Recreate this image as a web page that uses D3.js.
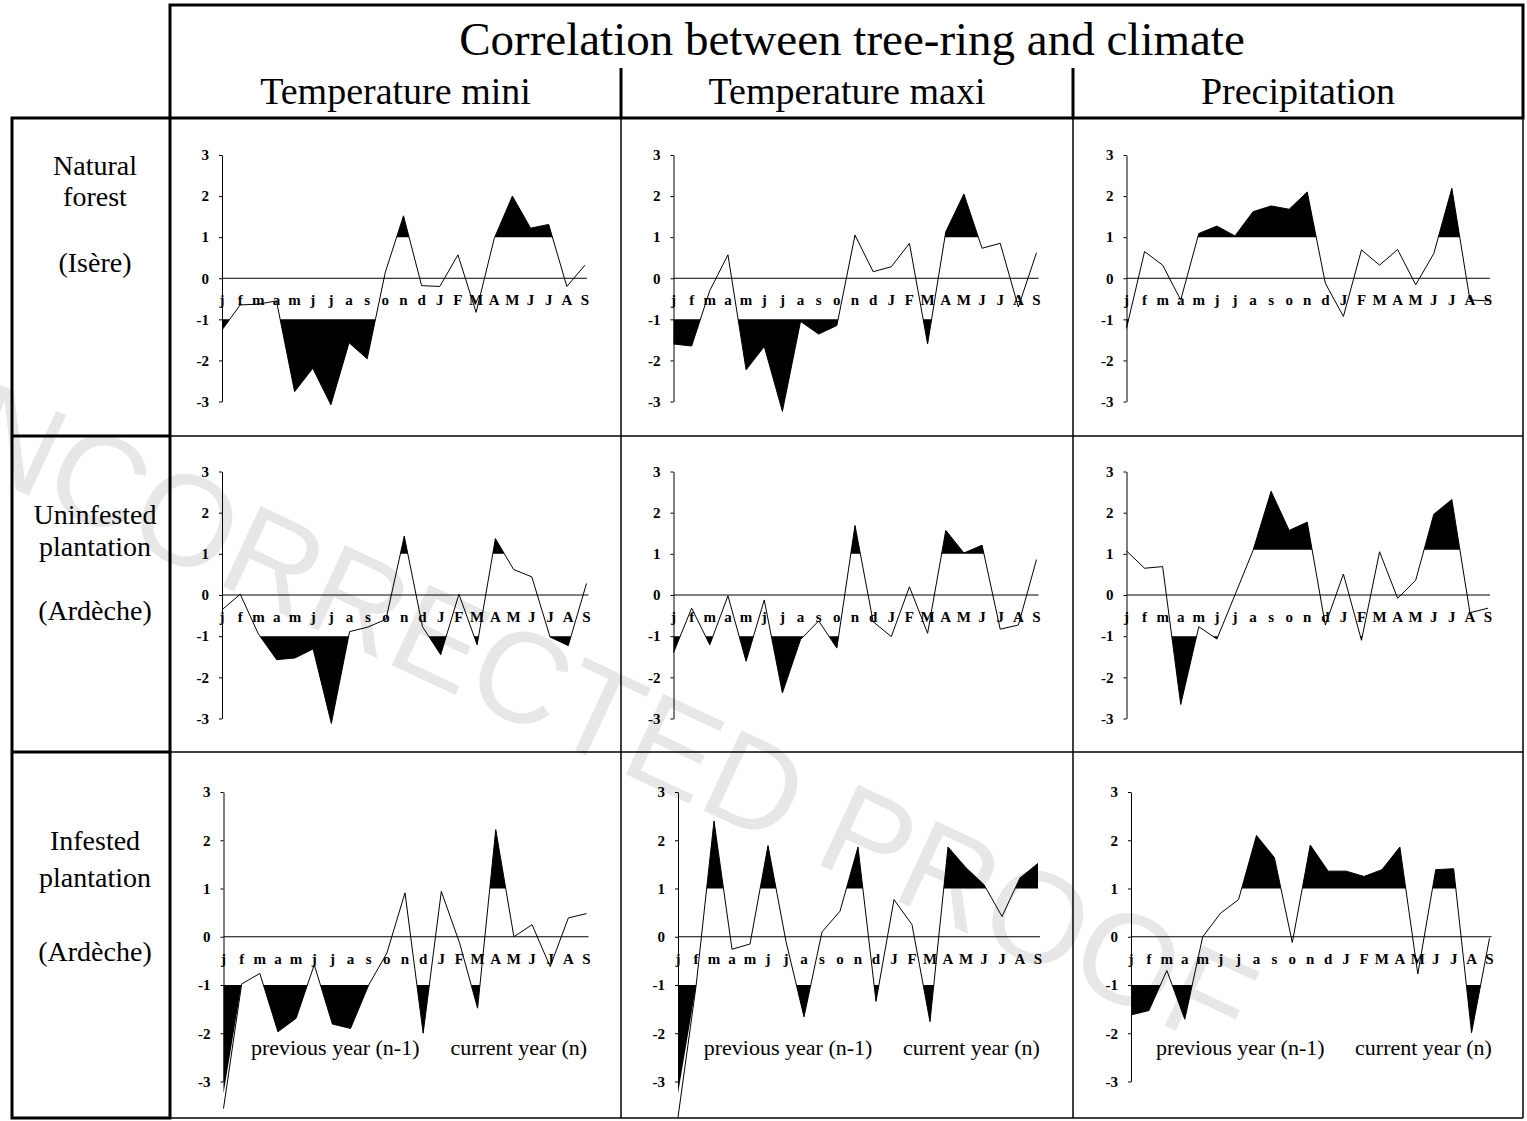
<!DOCTYPE html>
<html>
<head>
<meta charset="utf-8">
<script src="https://cdn.jsdelivr.net/npm/d3@7"></script>
<style>
  body { margin: 0; background: #fff; }
  svg { display: block; }
  text { font-family: 'Liberation Serif', 'Times New Roman', serif; fill: #000; }
</style>
</head>
<body>
<script>
const width = 1527;
const height = 1121;

// DATA
const months = ['j', 'f', 'm', 'a', 'm', 'j', 'j', 'a', 's', 'o', 'n', 'd',
  'J', 'F', 'M', 'A', 'M', 'J', 'J', 'A', 'S'];
const climateVars = ['Temperature mini', 'Temperature maxi', 'Precipitation'];
const sites = [
  ['Natural', 'forest', '(Isère)'],
  ['Uninfested', 'plantation', '(Ardèche)'],
  ['Infested', 'plantation', '(Ardèche)'],
];
const yTicks = [3, 2, 1, 0, -1, -2, -3];

// correlation values, one per month (j..S)
const naturalTmin = [-1.26, -0.65, -0.63, -0.55, -2.76, -2.19, -3.08, -1.57, -1.96, 0.15, 1.52,
  -0.18, -0.2, 0.57, -0.83, 0.97, 2.0, 1.22, 1.31, -0.2, 0.32];
const naturalTmax = [-1.6, -1.65, -0.3, 0.57, -2.23, -1.66, -3.24, -1.05, -1.36, -1.15, 1.05,
  0.16, 0.28, 0.85, -1.6, 1.13, 2.05, 0.73, 0.85, -0.7, 0.62];
const naturalPrec = [-1.22, 0.65, 0.32, -0.53, 1.09, 1.27, 1.03, 1.62, 1.76, 1.68, 2.1,
  -0.12, -0.93, 0.69, 0.32, 0.7, -0.16, 0.6, 2.19, -0.53, -0.55];
const uninfTmin = [-0.36, 0.02, -0.95, -1.57, -1.53, -1.31, -3.12, -0.89, -0.78, -0.59, 1.43,
  -0.77, -1.45, 0.02, -1.21, 1.37, 0.62, 0.44, -1.02, -1.23, 0.28];
const uninfTmax = [-1.4, -0.32, -1.21, -0.02, -1.61, -0.12, -2.38, -1.08, -0.63, -1.29, 1.69,
  -0.65, -1.01, 0.2, -0.93, 1.57, 1.02, 1.21, -0.83, -0.73, 0.86];
const uninfPrec = [1.07, 0.65, 0.69, -2.66, -0.77, -1.07, 0.0, 1.08, 2.52, 1.57, 1.77,
  -0.73, 0.51, -1.1, 1.05, -0.08, 0.36, 1.96, 2.32, -0.43, -0.32];
const infTmin = [-3.56, -0.98, -0.76, -1.97, -1.69, -0.58, -1.81, -1.9, -1.0, -0.34, 0.91,
  -2.0, 0.94, -0.12, -1.48, 2.22, 0.0, 0.25, -0.62, 0.39, 0.48];
const infTmax = [-3.74, -1.03, 2.4, -0.26, -0.15, 1.89, -0.1, -1.66, 0.1, 0.53, 1.86,
  -1.34, 0.77, 0.25, -1.76, 1.86, 1.43, 1.08, 0.42, 1.22, 1.52];
const infPrec = [-1.62, -1.53, -0.7, -1.71, 0.0, 0.49, 0.77, 2.1, 1.64, -0.12, 1.9,
  1.36, 1.36, 1.25, 1.39, 1.86, -0.77, 1.39, 1.41, -1.99, -0.03];

const series = [
  [naturalTmin, naturalTmax, naturalPrec],
  [uninfTmin, uninfTmax, uninfPrec],
  [infTmin, infTmax, infPrec],
];
// significance thresholds used for the black fills
const upperThr = [[1, 1, 1], [1, 1, 1.1], [1, 1, 1]];
const lowerThr = -1;
const fillFloor = -3.25;

// LAYOUT
const colLeft = [170, 621, 1073, 1523];
const yTopPx = [155, 471.5, 792];
const yBotPx = [401.5, 718.5, 1081.5];
const xStartPx = [[222, 673.5, 1126.5], [222, 673.5, 1126.5], [223.5, 678, 1131]];
const xEndPx = [[585, 1036.5, 1488], [586.5, 1036.5, 1488], [586.5, 1038, 1489.5]];

// add the points where the line crosses a threshold so fills start exactly there
const withCrossings = (values, t) => {
  const pts = [];
  values.forEach((v, i) => {
    pts.push({ i, v });
    const next = values[i + 1];
    if (next !== undefined && (v - t) * (next - t) < 0) {
      pts.push({ i: i + (t - v) / (next - v), v: t });
    }
  });
  return pts;
};

const svg = d3.select('body').append('svg')
  .attr('width', width)
  .attr('height', height);

svg.append('rect').attr('width', width).attr('height', height).attr('fill', '#fff');

// WATERMARK
svg.append('text')
  .attr('transform', 'translate(548,738) rotate(25)')
  .attr('text-anchor', 'middle')
  .style('font-family', "'Liberation Sans', Arial, sans-serif")
  .style('font-size', '129px')
  .style('fill', '#e7e7e7')
  .text('UNCORRECTED PROOF');

// PANELS
series.forEach((rowSeries, r) => {
  rowSeries.forEach((values, c) => {
    const x = d3.scaleLinear()
      .domain([0, months.length - 1])
      .range([xStartPx[r][c], xEndPx[r][c]]);
    const y = d3.scaleLinear()
      .domain([-3, 3])
      .range([yBotPx[r], yTopPx[r]]);

    const g = svg.append('g').attr('class', `panel-${r}-${c}`);
    const thrUp = upperThr[r][c];
    const idx = d3.range(values.length);

    // black fills beyond the thresholds
    g.append('path')
      .datum(withCrossings(values, thrUp))
      .attr('fill', '#000')
      .attr('d', d3.area()
        .defined(p => p.v >= thrUp - 1e-9)
        .x(p => x(p.i)).y0(y(thrUp)).y1(p => y(p.v)));
    g.append('path')
      .datum(withCrossings(values, lowerThr))
      .attr('fill', '#000')
      .attr('d', d3.area()
        .defined(p => p.v <= lowerThr + 1e-9)
        .x(p => x(p.i)).y0(y(lowerThr)).y1(p => y(Math.max(p.v, fillFloor))));

    // zero line
    g.append('line')
      .attr('x1', x(0)).attr('x2', x(20) + 2)
      .attr('y1', y(0)).attr('y2', y(0))
      .attr('stroke', '#000').attr('stroke-width', 1);

    // y axis
    const axis = g.append('g')
      .attr('transform', `translate(${x(0)},0)`)
      .call(d3.axisLeft(y).tickValues(yTicks).tickSize(3).tickSizeOuter(0)
        .tickPadding(10).tickFormat(d => String(d)));
    axis.selectAll('path, line').attr('stroke', '#000').attr('stroke-width', 1);
    axis.selectAll('text')
      .attr('font-family', "'Liberation Serif', serif")
      .attr('font-weight', 'bold')
      .attr('font-size', 15)
      .attr('fill', '#000');

    // correlation line
    g.append('path')
      .datum(idx)
      .attr('fill', 'none')
      .attr('stroke', '#000')
      .attr('stroke-width', 1)
      .attr('d', d3.line().x(i => x(i)).y(i => y(values[i])));

    // month labels
    g.selectAll('text.month')
      .data(months)
      .join('text')
      .attr('class', 'month')
      .attr('x', (d, i) => x(i))
      .attr('y', y(0) + 27)
      .attr('text-anchor', 'middle')
      .style('font-weight', 'bold')
      .style('font-size', '15px')
      .text(d => d);

    if (r === 2) {
      g.append('text')
        .attr('x', x(10.8)).attr('y', 1055)
        .attr('text-anchor', 'end')
        .style('font-size', '22px')
        .text('previous year (n-1)');
      g.append('text')
        .attr('x', x(12.5)).attr('y', 1055)
        .style('font-size', '22px')
        .text('current year (n)');
    }
  });
});

// HEADER
svg.append('text')
  .attr('x', 852).attr('y', 55)
  .attr('text-anchor', 'middle')
  .style('font-size', '47px')
  .text('Correlation between tree-ring and climate');

climateVars.forEach((name, c) => {
  svg.append('text')
    .attr('x', (colLeft[c] + colLeft[c + 1]) / 2)
    .attr('y', 104)
    .attr('text-anchor', 'middle')
    .style('font-size', '38px')
    .text(name);
});

// ROW LABELS
const rowLabelY = [[175, 206, 272], [524, 556, 620], [850, 887, 961]];
sites.forEach((lines, r) => {
  lines.forEach((txt, k) => {
    svg.append('text')
      .attr('x', 95).attr('y', rowLabelY[r][k])
      .attr('text-anchor', 'middle')
      .style('font-size', '28px')
      .text(txt);
  });
});

// FRAMES
const frame = svg.append('g').attr('fill', 'none').attr('stroke', '#000');
// thin grid between panels
[621, 1073, 1523].forEach(px => {
  frame.append('line').attr('x1', px).attr('x2', px).attr('y1', 118).attr('y2', 1118)
    .attr('stroke-width', 1.5);
});
[436, 752, 1118].forEach(py => {
  frame.append('line').attr('x1', 170).attr('x2', 1523).attr('y1', py).attr('y2', py)
    .attr('stroke-width', 1.5);
});
// header box
frame.append('rect').attr('x', 170).attr('y', 5).attr('width', 1353).attr('height', 113)
  .attr('stroke-width', 3);
[621, 1073].forEach(px => {
  frame.append('line').attr('x1', px).attr('x2', px).attr('y1', 68).attr('y2', 118)
    .attr('stroke-width', 3);
});
// row label column
frame.append('rect').attr('x', 12).attr('y', 118).attr('width', 158).attr('height', 1000)
  .attr('stroke-width', 3);
[436, 752].forEach(py => {
  frame.append('line').attr('x1', 12).attr('x2', 170).attr('y1', py).attr('y2', py)
    .attr('stroke-width', 3);
});
</script>
</body>
</html>
